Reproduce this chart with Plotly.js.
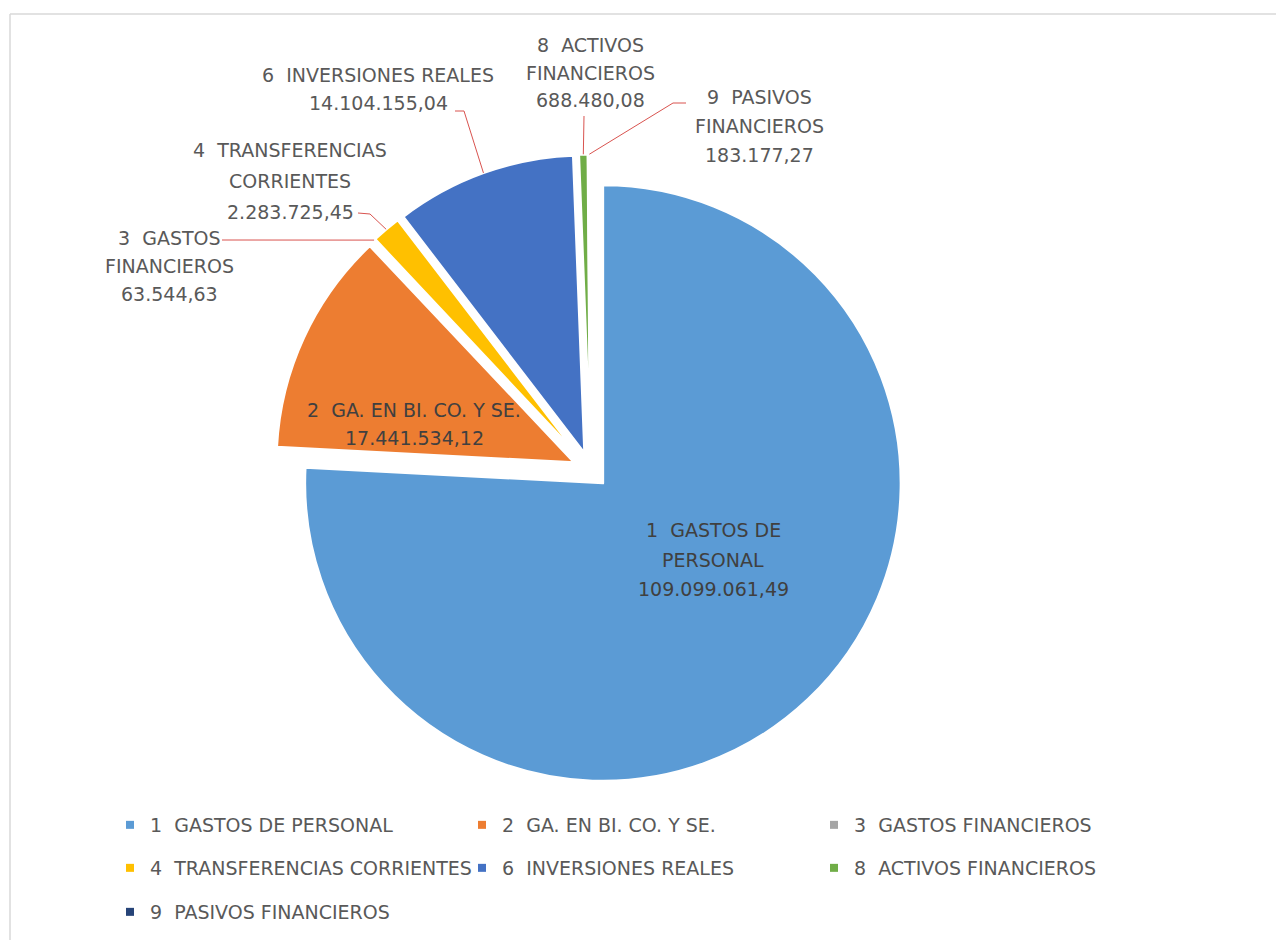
<!DOCTYPE html>
<html><head><meta charset="utf-8">
<script src="https://cdn.plot.ly/plotly-3.0.1.min.js"></script>
<style>html,body{margin:0;padding:0;background:#fff}#chart{width:1276px;height:940px}</style>
</head><body><div id="chart"></div>
<script>
// ---- data ----
const categories = ['1  GASTOS DE PERSONAL','2  GA. EN BI. CO. Y SE.','3  GASTOS FINANCIEROS','4  TRANSFERENCIAS CORRIENTES','6  INVERSIONES REALES','8  ACTIVOS FINANCIEROS','9  PASIVOS FINANCIEROS'];
const values = [109099061.49, 17441534.12, 63544.63, 2283725.45, 14104155.04, 688480.08, 183177.27];
const labelNameLines = [['1  GASTOS DE','PERSONAL'],['2  GA. EN BI. CO. Y SE.'],['3  GASTOS','FINANCIEROS'],['4  TRANSFERENCIAS','CORRIENTES'],['6  INVERSIONES REALES'],['8  ACTIVOS','FINANCIEROS'],['9  PASIVOS','FINANCIEROS']];

// ---- styles / layout ----
const sliceColors = ['#5B9BD5','#ED7D31','#A5A5A5','#FFC000','#4472C4','#70AD47','#264478'];
const W = 1276, H = 940;
const CX = 590.6, CY = 470.1, R = 298, PULL = 0.06;
const FONT = 'DejaVu Sans, Verdana, sans-serif';
const FSIZE = 19;
// label placement in px: center x, center y of first line, line spacing, inside?
const labelPlace = [
  {x:713, y:530, dy:29.5, inside:true},
  {x:414, y:410, dy:28, inside:true},
  {x:169, y:238, dy:28},
  {x:290, y:150, dy:31},
  {x:378, y:75,  dy:28},
  {x:590, y:45,  dy:27.5},
  {x:759, y:97,  dy:29}
];
// leader line points (px) from label towards slice; the slice end is computed
const leaderPts = [null, null, [[222,240]], [[358,213],[370,214]], [[455,111],[464,111]], [[584,116]], [[686,103],[673,103]]];
// legend rows (px, centre of row) and columns
const legendRows = [825, 868, 912];
const legendPerRow = 3;

const nb = s => s.replace(/  /g, ' \u00a0');
function fmtES(v){
  const p = v.toFixed(2).split('.');
  return p[0].replace(/\B(?=(\d{3})+(?!\d))/g, '.') + ',' + p[1];
}
const px = x => x / W, py = y => 1 - y / H;

// slice geometry
const total = values.reduce((a,b)=>a+b,0);
let cum = 0;
const midAngles = values.map(v => { const a = (cum + v/2) / total * 2*Math.PI; cum += v; return a; });

const annotations = [];
const shapes = [];
labelPlace.forEach((p, i) => {
  const lines = labelNameLines[i].map(nb).concat([fmtES(values[i])]);
  lines.forEach((t, k) => {
    annotations.push({xref:'paper', yref:'paper', x:px(p.x), y:py(p.y + k*p.dy), text:t, showarrow:false,
      xanchor:'center', yanchor:'middle', font:{family:FONT, size:FSIZE, color: p.inside ? '#404040' : '#595959'}});
  });
  if (leaderPts[i]) {
    const th = midAngles[i];
    const ax = CX + R*(1+PULL)*Math.sin(th), ay = CY - R*(1+PULL)*Math.cos(th);
    const pts = leaderPts[i].concat([[ax, ay]]);
    const path = pts.map((q, j) => (j ? 'L' : 'M') + px(q[0]) + ',' + py(q[1])).join(' ');
    shapes.push({type:'path', xref:'paper', yref:'paper', path, line:{color:'#D9534F', width:1}});
  }
});
// chart frame
shapes.push({type:'line', xref:'paper', yref:'paper', x0:px(10), x1:px(1280), y0:py(14), y1:py(14), line:{color:'#D9D9D9', width:1.5}});
shapes.push({type:'line', xref:'paper', yref:'paper', x0:px(10), x1:px(10), y0:py(14), y1:py(950), line:{color:'#D9D9D9', width:1.5}});

const half = R * (1 + PULL);
const pie = {
  type:'pie',
  labels: categories.map(nb),
  values: values,
  sort:false, direction:'clockwise', rotation:0,
  pull: values.map(() => PULL),
  marker:{colors: sliceColors, line:{color:'#FFFFFF', width:2.5}},
  textinfo:'none',
  hoverinfo:'label+value',
  showlegend:false,
  domain:{x:[px(CX-half), px(CX+half)], y:[py(CY+half), py(CY-half)]}
};
// legend entries (one per category, same colours as the slices), laid out in rows
const legendNames = ['legend','legend2','legend3'];
const legendTraces = categories.map((c, i) => ({
  type:'scatter', mode:'markers', x:[null], y:[null], name: nb(c),
  marker:{symbol:'square', size:8, color: sliceColors[i]},
  legend: legendNames[Math.floor(i / legendPerRow)], hoverinfo:'skip', showlegend:true
}));

const layout = {
  width:W, height:H,
  margin:{l:0, r:0, t:0, b:0, autoexpand:false},
  paper_bgcolor:'#FFFFFF', plot_bgcolor:'rgba(0,0,0,0)',
  xaxis:{visible:false}, yaxis:{visible:false},
  showlegend:true,
  annotations, shapes
};
legendNames.forEach((ln, r) => {
  layout[ln] = {orientation:'h', x:px(110), xanchor:'left', y:py(legendRows[r]), yanchor:'middle',
    entrywidth:307, entrywidthmode:'pixels', traceorder:'normal',
    font:{family:FONT, size:FSIZE, color:'#595959'}, bgcolor:'rgba(0,0,0,0)'};
});
Plotly.newPlot('chart', [pie].concat(legendTraces), layout, {displayModeBar:false, staticPlot:true});
</script></body></html>
